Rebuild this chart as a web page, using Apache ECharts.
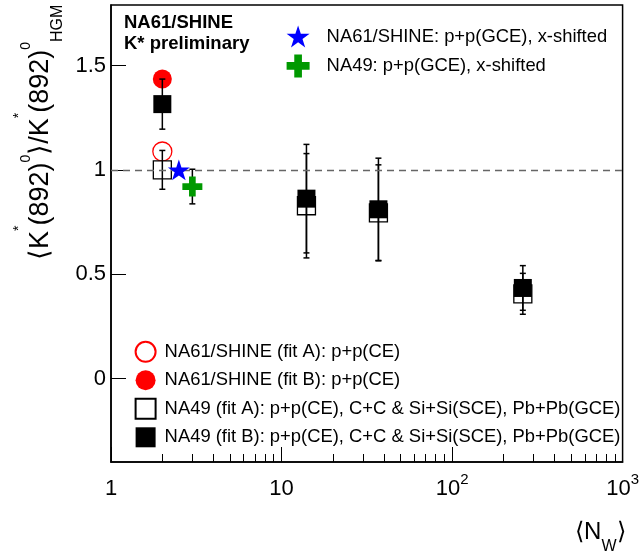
<!DOCTYPE html>
<html>
<head>
<meta charset="utf-8">
<title>K*(892)0 / HGM ratio vs Nw</title>
<script src="https://cdn.jsdelivr.net/npm/echarts@6/dist/echarts.min.js"></script>
<style>
  html, body { margin: 0; padding: 0; background: #fff; }
  #chart { width: 642px; height: 551px; }
</style>
</head>
<body>
<div id="chart"></div>
<script type="text/javascript">
// --- data ---
var nwNA61 = [2];
var na61FitA = [1.088];
var na61FitB = [1.435];

var nwNA49 = [2, 14, 37, 260];
var na49FitA = [1.0, 0.828, 0.794, 0.406];
var na49FitAErr = [0.093, 0.25, 0.23, 0.098];
var na49FitB = [1.315, 0.862, 0.811, 0.434];
var na49FitBErr = [0.12, 0.26, 0.245, 0.107];

var nwShineGCE = [2.5];
var shineGCE = [1.0];
var nwNA49GCE = [3.0];
var na49GCE = [0.92];
var na49GCEErr = [0.083];

var xMajorTicks = [1, 10, 100, 1000];
var xMinorTicks = [2, 3, 4, 5, 6, 7, 8, 9, 20, 30, 40, 50, 60, 70, 80, 90, 200, 300, 400, 500, 600, 700, 800, 900];
var yTicks = [0, 0.5, 1, 1.5];

var FONT = '"Liberation Sans", Arial, sans-serif';
var starPath = 'path://M1,0 L1.2245,0.691 L1.951,0.691 L1.3633,1.118 L1.5878,1.809 L1,1.382 L0.4122,1.809 L0.6367,1.118 L0.049,0.691 L0.7755,0.691 Z';
var crossPath = 'path://M1,0 H2 V1 H3 V2 H2 V3 H1 V2 H0 V1 H1 Z';

function pairs(xs, ys) {
  return xs.map(function (x, i) { return [x, ys[i]]; });
}
function triples(xs, ys, es) {
  return xs.map(function (x, i) { return [x, ys[i], es[i]]; });
}

var errData = triples(nwNA49, na49FitA, na49FitAErr)
  .concat(triples(nwNA49, na49FitB, na49FitBErr))
  .concat(triples(nwNA49GCE, na49GCE, na49GCEErr));

function renderErr(params, api) {
  var x = api.value(0), y = api.value(1), e = api.value(2);
  var hi = api.coord([x, y + e]);
  var lo = api.coord([x, y - e]);
  var w = 3;
  var st = { stroke: '#000', lineWidth: 1.5 };
  return {
    type: 'group',
    children: [
      { type: 'line', shape: { x1: hi[0], y1: hi[1], x2: lo[0], y2: lo[1] }, style: st },
      { type: 'line', shape: { x1: hi[0] - w, y1: hi[1], x2: hi[0] + w, y2: hi[1] }, style: st },
      { type: 'line', shape: { x1: lo[0] - w, y1: lo[1], x2: lo[0] + w, y2: lo[1] }, style: st }
    ]
  };
}

var chart = echarts.init(document.getElementById('chart'));
var option = {
  animation: false,
  textStyle: { fontFamily: FONT },
  grid: {
    left: 111, right: 14, top: 5, bottom: 89,
    show: true, borderColor: '#000', borderWidth: 1.5, backgroundColor: '#fff'
  },
  legend: [
    {
      orient: 'vertical', left: 129.6, top: 335.8,
      itemWidth: 20, itemHeight: 20, itemGap: 7.5,
      selectedMode: false,
      textStyle: { fontFamily: FONT, fontSize: 18.4, color: '#000', padding: [0, 0, 0, 4] },
      data: [
        'NA61/SHINE (fit A): p+p(CE)',
        'NA61/SHINE (fit B): p+p(CE)',
        'NA49 (fit A): p+p(CE), C+C & Si+Si(SCE), Pb+Pb(GCE)',
        'NA49 (fit B): p+p(CE), C+C & Si+Si(SCE), Pb+Pb(GCE)'
      ]
    },
    {
      orient: 'vertical', left: 281.6, top: 20.5,
      itemWidth: 23, itemHeight: 23, itemGap: 7,
      selectedMode: false,
      textStyle: { fontFamily: FONT, fontSize: 18.4, color: '#000', padding: [0, 0, 0, 12] },
      data: ['NA61/SHINE: p+p(GCE), x-shifted', 'NA49: p+p(GCE), x-shifted']
    }
  ],
  xAxis: [
    {
      type: 'log', logBase: 10, min: 1, max: 1000,
      axisLine: { show: true, onZero: false, lineStyle: { color: '#000', width: 1.5 } },
      axisTick: { inside: true, length: 15, customValues: xMajorTicks, lineStyle: { color: '#000', width: 1 } },
      splitLine: { show: false },
      axisLabel: {
        customValues: xMajorTicks,
        margin: 10,
        showMinLabel: true, showMaxLabel: true,
        formatter: function (v) {
          var p = Math.round(Math.log(v) / Math.LN10);
          if (p === 0) return '{b|1}';
          if (p === 1) return '{b|10}';
          return '{b|10}{s|' + p + '}';
        },
        rich: {
          b: { fontFamily: FONT, fontSize: 22, color: '#000', lineHeight: 28, verticalAlign: 'bottom' },
          s: { fontFamily: FONT, fontSize: 15, color: '#000', lineHeight: 18, verticalAlign: 'top' }
        }
      }
    },
    {
      type: 'log', logBase: 10, min: 1, max: 1000, position: 'bottom',
      axisLine: { show: false, onZero: false },
      axisLabel: { show: false },
      splitLine: { show: false },
      axisTick: { inside: true, length: 8, customValues: xMinorTicks, lineStyle: { color: '#000', width: 1 } }
    }
  ],
  yAxis: {
    type: 'value', min: -0.4, max: 1.79,
    axisLine: { show: true, onZero: false, lineStyle: { color: '#000', width: 1.5 } },
    axisTick: { inside: true, length: 15, customValues: yTicks, lineStyle: { color: '#000', width: 1 } },
    splitLine: { show: false },
    axisLabel: {
      customValues: yTicks,
      margin: 5,
      fontFamily: FONT, fontSize: 22, color: '#000',
      formatter: function (v) { return String(v); }
    }
  },
  graphic: [
    {
      type: 'text', left: 124, top: 12,
      style: {
        text: 'NA61/SHINE\nK* preliminary',
        font: 'bold 18.5px ' + FONT, fill: '#000', lineHeight: 21
      }
    },
    {
      // y-axis title, rotated to read bottom-to-top
      type: 'text', x: 0, y: 260, rotation: Math.PI / 2,
      style: {
        text: '{m|⟨K}{a|*}{m|(892)}{s|0}{m|⟩/K}{a|*}{m|(892)}{s|0}{b|HGM}',
        align: 'left', verticalAlign: 'top',
        rich: {
          m: { fontFamily: FONT, fontSize: 27, fill: '#000', verticalAlign: 'top', padding: [27, 0, 0, 0] },
          a: { fontFamily: FONT, fontSize: 14, fill: '#000', verticalAlign: 'top', padding: [12, 0, 0, 0] },
          s: { fontFamily: FONT, fontSize: 14, fill: '#000', verticalAlign: 'top', padding: [19, 0, 0, 0] },
          b: { fontFamily: FONT, fontSize: 16, fill: '#000', verticalAlign: 'top', padding: [49.5, 0, 0, 0] }
        }
      }
    },
    {
      // x-axis title
      type: 'text', x: 625.5, y: 520.2,
      style: {
        text: '{m|⟨N}{b|W}{m|⟩}',
        align: 'right', verticalAlign: 'top',
        rich: {
          m: { fontFamily: FONT, fontSize: 24, fill: '#000', verticalAlign: 'top' },
          b: { fontFamily: FONT, fontSize: 16, fill: '#000', verticalAlign: 'top', padding: [18, 0, 0, 0] }
        }
      }
    }
  ],
  series: [
    {
      name: 'NA61/SHINE (fit A): p+p(CE)',
      type: 'scatter', symbol: 'circle', symbolSize: 19,
      itemStyle: { color: 'rgba(255,255,255,0)', borderColor: '#ff0000', borderWidth: 1.3, opacity: 1 },
      data: pairs(nwNA61, na61FitA),
      markLine: {
        silent: true, symbol: 'none', label: { show: false },
        lineStyle: { color: '#666', width: 1.3, type: [7, 5] },
        data: [{ yAxis: 1 }]
      },
      z: 2
    },
    {
      name: 'NA61/SHINE (fit B): p+p(CE)',
      type: 'scatter', symbol: 'circle', symbolSize: 19,
      itemStyle: { color: '#ff0000', opacity: 1 },
      data: pairs(nwNA61, na61FitB),
      z: 2
    },
    {
      name: 'NA49 (fit A): p+p(CE), C+C & Si+Si(SCE), Pb+Pb(GCE)',
      type: 'scatter', symbol: 'rect', symbolSize: 18,
      itemStyle: { color: '#fff', borderColor: '#000', borderWidth: 1.3, opacity: 1 },
      data: pairs(nwNA49, na49FitA),
      z: 3
    },
    {
      name: 'errors',
      type: 'custom', renderItem: renderErr,
      encode: { x: 0, y: 1 },
      data: errData,
      z: 4
    },
    {
      name: 'NA49 (fit B): p+p(CE), C+C & Si+Si(SCE), Pb+Pb(GCE)',
      type: 'scatter', symbol: 'rect', symbolSize: 18,
      itemStyle: { color: '#000', opacity: 1 },
      data: pairs(nwNA49, na49FitB),
      z: 5
    },
    {
      name: 'NA61/SHINE: p+p(GCE), x-shifted',
      type: 'scatter', symbol: starPath, symbolSize: 22, symbolKeepAspect: true,
      itemStyle: { color: '#0000ff', opacity: 1 },
      data: pairs(nwShineGCE, shineGCE),
      z: 6
    },
    {
      name: 'NA49: p+p(GCE), x-shifted',
      type: 'scatter', symbol: crossPath, symbolSize: 20,
      itemStyle: { color: '#009900', opacity: 1 },
      data: pairs(nwNA49GCE, na49GCE),
      z: 6
    }
  ]
};
chart.setOption(option);
</script>
</body>
</html>
